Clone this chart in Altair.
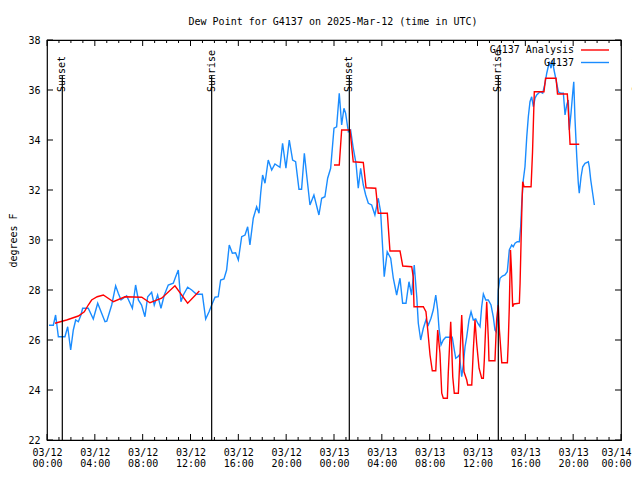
import altair as alt
import pandas as pd

# ---------------- data (hours after 2025-03-12 00:00 UTC, dew point in F) -------------
obs_hours = [0.17, 0.53, 0.72, 0.95, 1.5, 1.73, 1.98, 2.2, 2.4, 2.62, 2.84, 2.98, 3.45, 3.87,
             4.24, 4.57, 4.85, 5.0, 5.41, 5.74, 5.96, 6.19, 6.66, 7.14, 7.41, 7.64, 7.91, 8.19,
             8.42, 8.75, 8.97, 9.25, 9.53, 9.81, 10.14, 10.56, 10.76, 10.98, 11.2, 11.4, 11.76,
             12.1, 12.5, 12.99, 13.27, 13.55, 13.77, 14.05, 14.32, 14.52, 14.8, 15.02, 15.24,
             15.5, 15.77, 16.0, 16.28, 16.56, 16.78, 16.97, 17.25, 17.53, 17.73, 17.87, 18.03,
             18.23, 18.5, 18.79, 19.06, 19.48, 19.7, 19.98, 20.26, 20.54, 20.79, 21.07, 21.29,
             21.52, 21.76, 21.99, 22.32, 22.74, 22.97, 23.24, 23.47, 23.72, 24.0, 24.22, 24.44,
             24.64, 24.83, 24.97, 25.2, 25.39, 25.61, 25.84, 26.03, 26.23, 26.45, 26.65, 26.87,
             27.15, 27.42, 27.7, 27.9, 28.07, 28.2, 28.45, 28.74, 28.96, 29.24, 29.52, 29.74,
             30.02, 30.27, 30.49, 30.71, 30.92, 31.05, 31.25, 31.47, 31.69, 31.89, 32.11, 32.3,
             32.51, 32.67, 32.78, 32.95, 33.14, 33.34, 33.89, 34.06, 34.18, 34.35, 34.48, 34.68,
             34.81, 34.96, 35.1, 35.29, 35.46, 35.65, 35.85, 36.02, 36.21, 36.35, 36.49, 36.69,
             36.9, 37.13, 37.32, 37.46, 37.55, 37.66, 37.74, 37.88, 38.08, 38.3, 38.49, 38.66,
             38.86, 38.99, 39.14, 39.33, 39.5, 39.61, 39.7, 39.83, 39.97, 40.12, 40.25, 40.39,
             40.53, 40.67, 40.81, 40.95, 41.23, 41.45, 41.65, 41.79, 42.01, 42.15, 42.26, 42.4,
             42.57, 42.76, 42.96, 43.18, 43.32, 43.46, 43.59, 43.68, 43.82, 43.96, 44.05, 44.15,
             44.3, 44.43, 44.51, 44.66, 44.8, 44.99, 45.27, 45.35, 45.47, 45.63, 45.77]
obs_values = [26.59, 26.59, 27.0, 26.13, 26.13, 26.53, 25.6, 26.4, 26.8, 26.73, 27.0, 27.27, 27.27, 26.84,
              27.47, 27.07, 26.73, 26.75, 27.4, 28.17, 27.87, 27.6, 27.77, 27.27, 28.2, 27.6, 27.4, 26.93,
              27.73, 27.91, 27.4, 27.8, 27.27, 27.8, 28.2, 28.27, 28.53, 28.8, 27.53, 27.8, 28.11,
              28.0, 27.83, 27.83, 26.84, 27.13, 27.4, 27.71, 27.73, 28.4, 28.44, 28.8, 29.8,
              29.47, 29.49, 29.2, 30.13, 30.2, 30.53, 29.8, 30.87, 31.33, 31.07, 31.87, 32.6,
              32.27, 33.2, 32.8, 33.04, 32.91, 33.87, 32.87, 34.0, 33.2, 33.13, 32.03, 32.03,
              33.47, 32.4, 31.4, 31.8, 31.0, 31.67, 31.73, 32.47, 32.87, 34.47, 34.53, 35.87,
              34.6, 35.27, 35.07, 34.33, 34.4, 33.67, 33.07, 32.07, 32.87, 32.2, 31.8, 31.47,
              31.4, 31.0, 31.67, 31.13, 29.67, 28.53, 29.53, 29.27, 28.47, 27.8, 28.47, 27.47,
              27.47, 28.33, 27.8, 29.0, 27.73, 26.67, 26.0, 26.47, 26.8, 26.6, 26.87, 27.2,
              27.8, 27.2, 26.47, 25.8, 26.0, 26.11, 26.11, 25.6, 25.27, 25.33, 25.4, 24.53,
              25.0, 25.73, 26.13, 26.8, 27.13, 26.8, 26.84, 26.67, 26.53, 27.33, 27.84, 27.6,
              27.6, 27.4, 26.93, 26.4, 26.33, 26.8, 28.0, 28.47, 28.56, 28.6, 28.73, 29.6,
              29.8, 29.73, 29.87, 29.93, 29.93, 30.53, 31.47, 32.4, 32.93, 34.13, 34.93, 35.53,
              35.73, 35.33, 35.67, 35.8, 35.93, 35.87, 36.27, 36.67, 37.13, 36.87, 37.2, 36.8,
              36.4, 35.93, 35.87, 35.87, 35.0, 35.4, 35.6, 34.4, 35.07, 35.87, 36.33, 34.87,
              33.33, 32.27, 31.87, 32.53, 32.93, 33.07, 33.13, 32.93, 32.4, 31.87, 31.4]

ana1_hours = [0.67, 1.64, 2.62, 3.12, 3.45, 3.73, 4.2, 4.71, 5.55, 6.52, 7.92, 8.61, 9.59,
              10.7, 11.76, 12.74]
ana1_values = [26.67, 26.8, 26.96, 27.13, 27.4, 27.6, 27.73, 27.8, 27.53, 27.73, 27.71, 27.49,
               27.67, 28.17, 27.47, 27.96]

ana2_hours = [24.0, 24.44, 24.64, 25.34, 25.61, 26.45, 26.68, 27.49, 27.7, 28.46, 28.68, 29.52,
              29.75, 30.5, 30.63, 30.69, 31.47, 31.69, 31.84, 32.03, 32.22, 32.51, 32.67, 32.86,
              33.01, 33.14, 33.48, 33.56, 33.76, 33.84, 33.93, 34.06, 34.4, 34.68, 34.87, 35.1,
              35.18, 35.52, 35.65, 35.79, 35.93, 36.13, 36.35, 36.49, 36.57, 36.77, 36.91, 36.96,
              37.46, 37.6, 37.74, 37.83, 38.03, 38.5, 38.57, 38.66, 38.76, 38.84, 38.94, 39.05,
              39.5, 39.56, 39.64, 39.72, 39.78, 39.89, 40.48, 40.6, 40.75, 41.56, 41.69, 42.57,
              42.69, 43.51, 43.57, 43.68, 43.74, 44.51]
ana2_values = [33.0, 33.0, 34.4, 34.4, 33.13, 33.1, 32.09, 32.07, 31.07, 31.07, 29.56, 29.56,
               28.96, 28.93, 28.5, 27.33, 27.33, 27.13, 26.4, 25.4, 24.77, 24.77, 26.4, 25.47,
               23.87, 23.67, 23.67, 24.73, 26.73, 25.73, 24.53, 23.87, 23.87, 27.0, 24.73, 24.4,
               24.2, 24.2, 25.6, 26.8, 25.87, 24.87, 24.47, 24.47, 25.2, 27.53, 26.0, 25.17,
               25.17, 26.8, 27.4, 26.4, 25.09, 25.09, 25.87, 27.33, 29.6, 28.8, 27.33, 27.44,
               27.47, 28.27, 29.87, 31.47, 32.33, 32.13, 32.13, 33.5, 35.93, 35.93, 36.47, 36.47,
               35.84, 35.84, 35.4, 34.4, 33.83, 33.83]

sun_labels = ["Sunset", "Sunrise", "Sunset", "Sunrise", "Sunset"]
sun_hours = [1.28, 13.77, 25.28, 37.74, 49.33]

x_major_hours = list(range(0, 49, 4))
x_minor_hours = [h for h in range(0, 49) if h % 4 != 0]
y_tick_values = [22, 24, 26, 28, 30, 32, 34, 36, 38]

legend_labels = ["G4137 Analysis", "G4137"]
legend_colors = ["#ff0000", "#1a8cff"]

TITLE = "Dew Point for G4137 on 2025-Mar-12 (time in UTC)"
FONT = "DejaVu Sans Mono"

# ---------------- helpers ----------------
BASE = pd.Timestamp("2025-03-12T00:00:00", tz="UTC")


def iso(h):
    return (BASE + pd.to_timedelta(h, unit="h")).strftime("%Y-%m-%dT%H:%M:%SZ")


def ms(h):
    return int((BASE + pd.to_timedelta(h, unit="h")).value // 10**6)


obs_df = pd.DataFrame({"time": [iso(h) for h in obs_hours], "value": obs_values})
ana_df = pd.DataFrame({
    "time": [iso(h) for h in ana1_hours] + [iso(h) for h in ana2_hours],
    "value": ana1_values + ana2_values,
    "seg": ["a"] * len(ana1_hours) + ["b"] * len(ana2_hours),
})
sun_df = pd.DataFrame({"time": [iso(h) for h in sun_hours], "label": sun_labels})
major_df = pd.DataFrame({"time": [iso(h) for h in x_major_hours]})
minor_df = pd.DataFrame({"time": [iso(h) for h in x_minor_hours]})
ytick_df = pd.DataFrame({"value": y_tick_values})
title_df = pd.DataFrame({"label": [TITLE]})

W, H = 574, 400
END_MS = ms(48)
xscale = alt.Scale(type="utc", domain=[ms(0), END_MS])
yscale = alt.Scale(domain=[22, 38], nice=False, zero=False)

x_axis = alt.Axis(
    values=[ms(h) for h in x_major_hours],
    labelExpr="[utcFormat(datum.value, '%m/%d'), utcFormat(datum.value, '%H:%M')]",
    labelPadding=7, labelLineHeight=11, labelFlush=False, labelOverlap=False,
    labelBaseline="top", title=None,
    labelAlign={"condition": {"test": f"datum.value >= {END_MS}", "value": "right"},
                "value": "center"},
    labelOffset={"condition": {"test": f"datum.value >= {END_MS}", "value": 10},
                 "value": 0},
)
y_axis = alt.Axis(values=y_tick_values, labelPadding=7, title="degrees F", titlePadding=9)

X = alt.X("time:T", scale=xscale, axis=x_axis)
Y = alt.Y("value:Q", scale=yscale, axis=y_axis)

obs = alt.Chart(obs_df).mark_line(color="#1a8cff", strokeWidth=1.4).encode(x=X, y=Y)
analysis = alt.Chart(ana_df).mark_line(color="#ff0000", strokeWidth=1.4).encode(
    x=X, y=Y, detail="seg:N")

sun_rules = alt.Chart(sun_df).mark_rule(color="black", strokeWidth=1.2).encode(
    x=X, y=alt.value(H), y2=alt.datum(35.64))
sun_text = alt.Chart(sun_df).mark_text(
    angle=270, align="left", baseline="middle", font=FONT, fontSize=10, color="black"
).encode(x=X, y=alt.Y(datum=35.92, scale=yscale, axis=y_axis), text="label:N")

tick_layers = []
for df, ln in [(major_df, 6), (minor_df, 3)]:
    tick_layers.append(alt.Chart(df).mark_rule(color="black").encode(
        x=X, y=alt.value(H), y2=alt.value(H - ln)))
    tick_layers.append(alt.Chart(df).mark_rule(color="black").encode(
        x=X, y=alt.value(0), y2=alt.value(ln)))
tick_layers.append(alt.Chart(ytick_df).mark_rule(color="black").encode(
    y=Y, x=alt.value(0), x2=alt.value(6)))
tick_layers.append(alt.Chart(ytick_df).mark_rule(color="black").encode(
    y=Y, x=alt.value(W), x2=alt.value(W - 6)))

legend_layers = []
for i, (lab, col) in enumerate(zip(legend_labels, legend_colors)):
    ldf = pd.DataFrame({"label": [lab]})
    yy = 10 + i * 12.5
    legend_layers.append(alt.Chart(ldf).mark_text(
        align="right", baseline="middle", font=FONT, fontSize=10, color="black"
    ).encode(x=alt.value(527), y=alt.value(yy), text="label:N"))
    legend_layers.append(alt.Chart(ldf).mark_rule(color=col, strokeWidth=1.4).encode(
        x=alt.value(534), x2=alt.value(562), y=alt.value(yy)))

title_layer = alt.Chart(title_df).mark_text(
    align="center", baseline="middle", font=FONT, fontSize=10, color="black"
).encode(x=alt.value(286), y=alt.value(-18), text="label:N")

chart = alt.layer(
    obs, analysis, sun_rules, sun_text, *tick_layers, *legend_layers, title_layer
).properties(
    width=W, height=H,
    autosize=alt.AutoSizeParams(type="none"),
    padding={"left": 39, "top": 32, "right": 11, "bottom": 28},
    background="white",
).configure_view(
    stroke="black", strokeWidth=1.2
).configure_axis(
    labelFont=FONT, labelFontSize=10, labelColor="black",
    titleFont=FONT, titleFontSize=10, titleFontWeight="normal", titleColor="black",
    tickSize=0, domain=False, grid=False,
)

chart.save("out.html", embed_options={"renderer": "svg", "actions": False})
